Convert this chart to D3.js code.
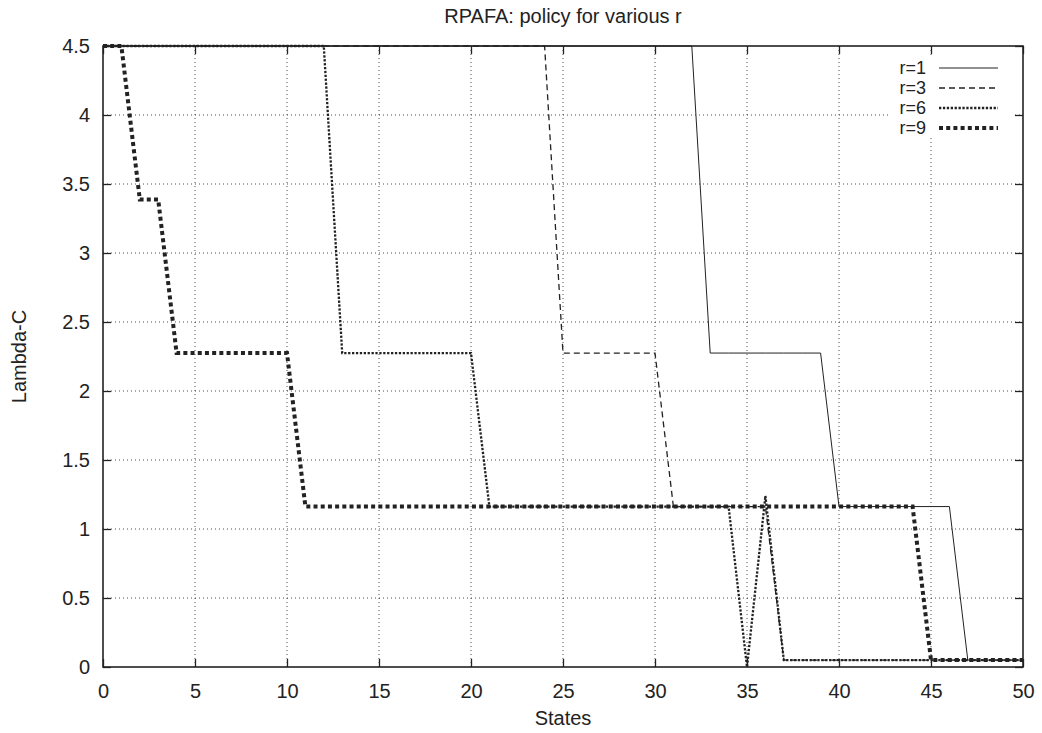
<!DOCTYPE html>
<html><head><meta charset="utf-8">
<script src="https://cdn.jsdelivr.net/npm/d3@7"></script>
<style>body{margin:0;background:#fff}svg{display:block}text{font-family:"Liberation Sans",Arial,sans-serif;fill:#222}</style>
</head><body><div id="chart"></div>
<script>
const states = d3.range(0, 51);
const seriesNames = ["r=1", "r=3", "r=6", "r=9"];
const r1 = [4.5,4.5,4.5,4.5,4.5,4.5,4.5,4.5,4.5,4.5,4.5,4.5,4.5,4.5,4.5,4.5,4.5,4.5,4.5,4.5,4.5,4.5,4.5,4.5,4.5,4.5,4.5,4.5,4.5,4.5,4.5,4.5,4.5,
  2.275,2.275,2.275,2.275,2.275,2.275,2.275,
  1.1625,1.1625,1.1625,1.1625,1.1625,1.1625,1.1625,
  0.05,0.05,0.05,0.05];
const r3 = [4.5,4.5,4.5,4.5,4.5,4.5,4.5,4.5,4.5,4.5,4.5,4.5,4.5,4.5,4.5,4.5,4.5,4.5,4.5,4.5,4.5,4.5,4.5,4.5,4.5,
  2.275,2.275,2.275,2.275,2.275,2.275,
  1.1625,1.1625,1.1625,1.1625,1.1625,1.1625,
  0.05,0.05,0.05,0.05,0.05,0.05,0.05,0.05,0.05,0.05,0.05,0.05,0.05,0.05];
const r6 = [4.5,4.5,4.5,4.5,4.5,4.5,4.5,4.5,4.5,4.5,4.5,4.5,4.5,
  2.275,2.275,2.275,2.275,2.275,2.275,2.275,2.275,
  1.1625,1.1625,1.1625,1.1625,1.1625,1.1625,1.1625,1.1625,1.1625,1.1625,1.1625,1.1625,1.1625,1.1625,
  0, 1.24,
  0.05,0.05,0.05,0.05,0.05,0.05,0.05,0.05,0.05,0.05,0.05,0.05,0.05,0.05];
const r9 = [4.5,4.5,3.3875,3.3875,
  2.275,2.275,2.275,2.275,2.275,2.275,2.275,
  1.1625,1.1625,1.1625,1.1625,1.1625,1.1625,1.1625,1.1625,1.1625,1.1625,1.1625,1.1625,1.1625,1.1625,1.1625,1.1625,1.1625,1.1625,1.1625,1.1625,1.1625,1.1625,1.1625,1.1625,1.1625,1.1625,1.1625,1.1625,1.1625,1.1625,1.1625,1.1625,1.1625,1.1625,
  0.05,0.05,0.05,0.05,0.05,0.05];
const seriesValues = [r1, r3, r6, r9];
const xTicks = d3.range(0, 51, 5);
const yTicks = [0,0.5,1,1.5,2,2.5,3,3.5,4,4.5];
const yTickLabels = ["0","0.5","1","1.5","2","2.5","3","3.5","4","4.5"];
const styles = [
  {w:1, dash:null},
  {w:1.3, dash:"6,4"},
  {w:2.3, dash:"2.3,1.6"},
  {w:4, dash:"4,3.2"}
];

const W = 1042, H = 733;
const m = {l:103, r:19, t:46, b:66};
const FS = "20px";
const svg = d3.select("#chart").append("svg").attr("width", W).attr("height", H);
const x = d3.scaleLinear().domain([0,50]).range([m.l, W-m.r]);
const y = d3.scaleLinear().domain([0,4.5]).range([H-m.b, m.t]);
const ink = "#222";

// grid
const g = svg.append("g");
g.selectAll(".gx").data(xTicks.slice(1,-1)).join("line")
  .attr("x1", d=>x(d)).attr("x2", d=>x(d)).attr("y1", y(0)).attr("y2", y(4.5))
  .attr("stroke", ink).attr("stroke-width", 0.8).attr("stroke-dasharray", "1,3");
g.selectAll(".gy").data(yTicks.slice(1,-1)).join("line")
  .attr("x1", x(0)).attr("x2", x(50)).attr("y1", d=>y(d)).attr("y2", d=>y(d))
  .attr("stroke", ink).attr("stroke-width", 0.8).attr("stroke-dasharray", "1,3");

// key background hides grid
svg.append("rect").attr("x", 890).attr("y", 56).attr("width", 122).attr("height", 82).attr("fill", "#fff");

// axes with inward ticks
const tl = 8;
const styleText = s => s.selectAll("text").style("font-size", FS).attr("fill", ink).style("font-family","Liberation Sans, Arial, sans-serif");
const styleLines = s => { s.select(".domain").remove(); s.selectAll("line").attr("stroke", ink).attr("stroke-width",1.3); };
svg.append("g").attr("transform", `translate(0,${y(0)})`)
  .call(d3.axisBottom(x).tickValues(xTicks).tickSize(-tl).tickPadding(17).tickFormat(d3.format("d")))
  .call(styleLines).call(styleText);
svg.append("g").attr("transform", `translate(0,${y(4.5)})`)
  .call(d3.axisTop(x).tickValues(xTicks).tickSize(-tl).tickFormat(""))
  .call(styleLines);
svg.append("g").attr("transform", `translate(${x(0)},0)`)
  .call(d3.axisLeft(y).tickValues(yTicks).tickSize(-tl).tickPadding(13).tickFormat((d,i)=>yTickLabels[i]))
  .call(styleLines).call(styleText);
svg.append("g").attr("transform", `translate(${x(50)},0)`)
  .call(d3.axisRight(y).tickValues(yTicks).tickSize(-tl).tickFormat(""))
  .call(styleLines);

// series
const line = d3.line().x((d,i)=>x(states[i])).y(d=>y(d));
seriesValues.forEach((vals, k) => {
  svg.append("path").attr("d", line(vals)).attr("fill","none")
    .attr("stroke", ink).attr("stroke-width", styles[k].w)
    .attr("stroke-dasharray", styles[k].dash)
    .attr("stroke-linejoin","miter");
});

// frame
svg.append("rect").attr("x", x(0)).attr("y", y(4.5)).attr("width", x(50)-x(0)).attr("height", y(0)-y(4.5))
  .attr("fill","none").attr("stroke", ink).attr("stroke-width", 1.6);

// legend
const keyY = [68, 88, 108, 128];
seriesNames.forEach((n,k)=>{
  svg.append("text").attr("x", 926).attr("y", keyY[k]).attr("dy","0.35em").attr("text-anchor","end")
    .style("font-size", "18px").text(n);
  svg.append("line").attr("x1", 939).attr("x2", 998).attr("y1", keyY[k]).attr("y2", keyY[k])
    .attr("stroke", ink).attr("stroke-width", styles[k].w).attr("stroke-dasharray", styles[k].dash);
});

// titles
svg.append("text").attr("x", (x(0)+x(50))/2).attr("y", 16).attr("dy","0.35em").attr("text-anchor","middle")
  .style("font-size", FS).text("RPAFA: policy for various r");
svg.append("text").attr("x", (x(0)+x(50))/2).attr("y", 718).attr("dy","0.35em").attr("text-anchor","middle")
  .style("font-size", FS).text("States");
svg.append("text").attr("transform", `translate(19,${(y(0)+y(4.5))/2}) rotate(-90)`).attr("dy","0.35em").attr("text-anchor","middle")
  .style("font-size", FS).text("Lambda-C");
</script></body></html>
